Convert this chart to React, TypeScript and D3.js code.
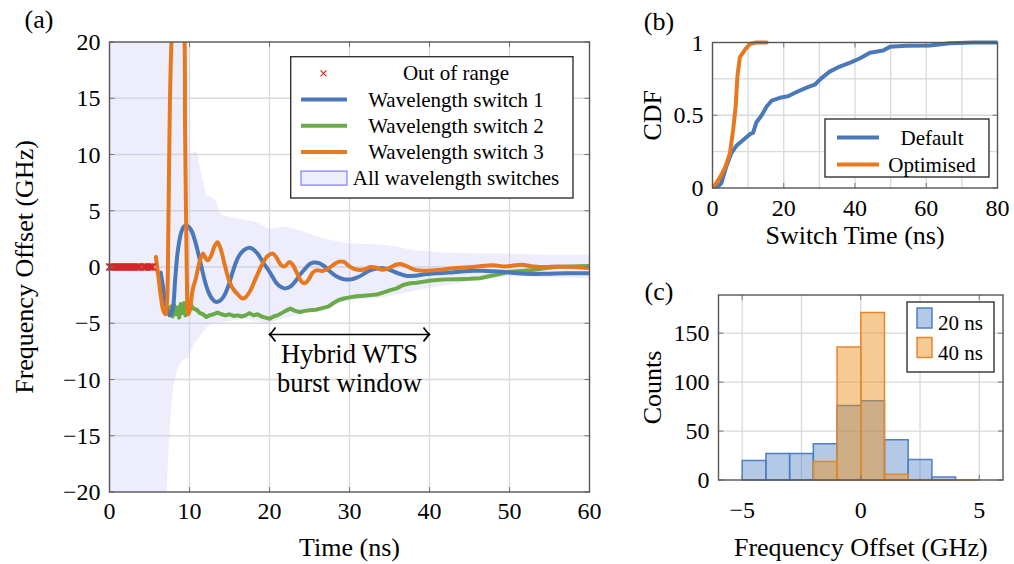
import React from 'react';
import * as d3 from 'd3';

const FONT = '"Liberation Serif", "Times New Roman", Times, serif';

type P = [number, number];

// ---------- Panel (a): frequency offset vs time ----------
const timeTicks = [0, 10, 20, 30, 40, 50, 60];
const offsetTicks = [-20, -15, -10, -5, 0, 5, 10, 15, 20];

const outOfRangeTimes = [0, 0.2, 0.4, 0.6, 0.8, 1.0, 1.2, 1.4, 1.6, 1.8, 2.0, 2.2, 2.4, 2.6, 2.8, 3.0, 3.2, 3.4, 3.6, 3.8, 4.2, 4.4, 4.6, 4.8, 5.0, 5.2, 5.4];

const switch1: P[] = [
  [6.4, -0.5], [6.7, -1.8], [7.0, -3.2], [7.3, -4.0], [7.6, -4.3], [7.9, -3.8], [8.2, -1.2], [8.5, 1.2],
  [8.9, 2.9], [9.3, 3.6], [9.7, 3.65], [10.2, 3.3], [10.7, 2.3], [11.1, 1.2], [11.5, 0], [11.9, -1.2],
  [12.3, -2.1], [12.8, -2.8], [13.3, -3.1], [13.8, -3.0], [14.3, -2.6], [14.8, -1.8], [15.2, -0.9], [15.7, 0.2],
  [16.2, 1.0], [16.8, 1.5], [17.4, 1.7], [17.9, 1.6], [18.5, 1.2], [19.2, 0.4], [19.8, -0.2], [20.4, -0.9],
  [20.9, -1.45], [21.5, -1.8], [22.0, -1.9], [22.6, -1.75], [23.2, -1.3], [23.8, -0.7], [24.4, -0.2], [25.0, 0.25],
  [25.5, 0.4], [26.2, 0.35], [26.8, 0.1], [27.4, -0.3], [28.0, -0.65], [28.7, -0.95], [29.4, -1.1], [30.2, -1.1],
  [30.9, -0.95], [31.6, -0.7], [32.4, -0.35], [33.2, -0.15], [34.2, -0.12], [35.2, -0.3], [36.2, -0.6], [37.2, -0.8],
  [38.2, -0.78], [39.4, -0.65], [40.8, -0.55], [42.4, -0.5], [44.0, -0.4], [45.5, -0.33], [47.0, -0.35], [48.5, -0.4],
  [50.0, -0.48], [52.0, -0.6], [54.5, -0.6], [57.0, -0.55], [60.0, -0.55],
];

const switch2: P[] = [
  [7.3, -3.6], [7.5, -4.3], [7.7, -3.5], [7.9, -4.4], [8.1, -3.4], [8.3, -4.2], [8.5, -3.6], [8.7, -4.5],
  [8.9, -3.3], [9.1, -4.1], [9.3, -3.2], [9.5, -4.3], [9.7, -3.5], [9.9, -4.0], [10.2, -3.4], [10.5, -3.7],
  [10.9, -3.8], [11.3, -4.1], [11.7, -4.2], [12.1, -4.45], [12.5, -4.3], [13.0, -4.2], [13.5, -4.05], [14.0, -4.2],
  [14.5, -4.3], [15.0, -4.2], [15.5, -4.35], [16.0, -4.3], [16.5, -4.4], [17.0, -4.3], [17.5, -4.1], [18.0, -4.3],
  [18.5, -4.2], [19.0, -4.4], [19.5, -4.5], [20.0, -4.6], [20.5, -4.4], [21.0, -4.3], [21.5, -4.1], [22.0, -3.9],
  [22.6, -3.7], [23.2, -3.9], [23.8, -4.0], [24.4, -3.9], [25.0, -3.85], [25.8, -3.8], [26.6, -3.65], [27.4, -3.5],
  [28.0, -3.2], [28.6, -2.95], [29.3, -2.8], [30.0, -2.7], [30.9, -2.6], [31.8, -2.55], [32.6, -2.5], [33.4, -2.45],
  [34.3, -2.25], [35.1, -2.05], [35.9, -1.9], [36.7, -1.6], [37.6, -1.45], [38.4, -1.4], [39.3, -1.3], [40.2, -1.2],
  [41.0, -1.15], [42.0, -1.1], [43.5, -1.08], [45.0, -1.05], [46.3, -1.0], [47.3, -0.85], [48.3, -0.7], [49.2, -0.55],
  [50.0, -0.42], [51.5, -0.35], [52.9, -0.27], [54.5, -0.1], [55.8, 0], [57.5, 0.05], [60.0, 0.1],
];

const switch3: P[] = [
  [5.8, 0.9], [6.1, -0.8], [6.4, -2.5], [6.7, -3.8], [7.0, -4.2], [7.2, -3.0], [7.35, 3], [7.5, 12],
  [7.7, 19], [8.0, 23], [8.6, 25], [9.2, 23], [9.45, 12], [9.65, 0], [9.85, -4.2],
  [10.05, -3.8], [10.4, -2.0], [10.8, -1.0], [11.1, 0], [11.4, 0.8], [11.7, 1.2], [12.0, 0.8],
  [12.3, 0.6], [12.7, 1.0], [13.1, 1.8], [13.5, 2.2], [13.9, 1.6], [14.4, 0.2], [15.0, -1.3], [15.5, -2.0],
  [16.0, -2.4], [16.6, -2.8], [17.0, -2.7], [17.6, -2.1], [18.1, -1.3], [18.6, -0.5], [19.2, 0.4], [19.8, 1.0],
  [20.4, 1.2], [20.9, 0.8], [21.4, 0.2], [21.9, 0.05], [22.5, 0.45], [22.9, 0.2], [23.4, -0.5], [24.0, -1.3],
  [24.4, -1.45], [24.9, -1.1], [25.4, -0.5], [25.9, -0.3], [26.6, -0.35], [27.2, -0.2], [27.9, 0.15], [28.6, 0.45],
  [29.3, 0.45], [29.9, 0.1], [30.5, -0.15], [31.2, -0.27], [31.9, -0.2], [32.6, 0], [33.3, -0.05], [34.1, -0.25],
  [34.9, -0.1], [35.8, 0.2], [36.4, 0.27], [37.2, 0.05], [38.2, -0.25], [39.2, -0.33], [40.5, -0.3], [41.5, -0.25],
  [43.0, -0.1], [44.5, -0.05], [46.0, 0.05], [48.0, 0.15], [49.5, 0.05], [51.5, 0.2], [53.0, 0.05], [54.5, 0],
  [56.0, 0.05], [58.0, 0], [60.0, -0.1],
];

const bandUpper: P[] = [
  [0, 22], [9.8, 22], [9.9, 10.0], [10.9, 10.3], [11.4, 8.5], [12.1, 6.4], [13.2, 6.0], [13.8, 4.8],
  [14.2, 4.6], [16.3, 4.3], [18.3, 4.0], [20, 3.4], [22, 3.6], [24, 3.2], [26, 2.7], [28, 2.35],
  [30, 2.1], [34, 2.0], [36, 1.8], [38, 1.5], [42, 1.3], [46, 1.2], [50, 1.2], [54, 1.1], [60, 1.1],
];

const bandLower: P[] = [
  [0, -22], [7.0, -22], [7.2, -19], [7.4, -16], [7.7, -12.5], [8.0, -10.5], [8.5, -9.0], [9.0, -8.3],
  [9.9, -8.0], [10.1, -7.6], [10.6, -6.8], [11.1, -6.4], [11.6, -5.8], [12.2, -5.3], [13, -5.0], [15, -4.8],
  [17, -4.6], [19, -4.9], [20, -5.0], [21, -4.7], [22, -4.5], [24, -4.2], [26, -3.7], [28, -3.3],
  [30, -3.0], [34, -2.7], [38, -2.1], [42, -1.6], [46, -1.15], [50, -0.8], [54, -0.9], [60, -1.0],
];

const legendA = ['Out of range', 'Wavelength switch 1', 'Wavelength switch 2', 'Wavelength switch 3', 'All wavelength switches'];

// ---------- Panel (b): CDF of switch time ----------
const switchTimeTicks = [0, 20, 40, 60, 80];
const switchTimeGrid = [10, 20, 30, 40, 50, 60, 70];
const cdfTicks = [0, 0.5, 1];
const cdfGrid = [0.25, 0.5, 0.75];

const cdfDefault: P[] = [
  [1.1, 0], [2.5, 0.034], [3.9, 0.15], [5.3, 0.24], [6.7, 0.29], [8.6, 0.33], [10.5, 0.37], [11.4, 0.38],
  [12.3, 0.45], [13.8, 0.5], [15.2, 0.56], [16.6, 0.6], [18.9, 0.62], [21.2, 0.63], [23.6, 0.66], [26.4, 0.69],
  [28.7, 0.71], [30.6, 0.755], [32.9, 0.8], [35.7, 0.835], [38.5, 0.86], [41.3, 0.89], [44.2, 0.93], [47.9, 0.945],
  [49.8, 0.97], [54.4, 0.978], [61, 0.98], [66.6, 0.995], [73.2, 1.0], [80, 1.0],
];

const cdfOptimised: P[] = [
  [0, 0], [1.1, 0.034], [2.5, 0.09], [3.7, 0.15], [4.9, 0.24], [5.8, 0.4], [6.5, 0.56], [7.0, 0.77],
  [7.7, 0.9], [9.1, 0.95], [10.5, 0.99], [12.3, 1.0], [15.2, 1.0],
];

const legendB = ['Default', 'Optimised'];

// ---------- Panel (c): histogram of frequency offset ----------
const freqTicks = [-5, 0, 5];
const freqGrid = [-5, -2.5, 0, 2.5, 5];
const countTicks = [0, 50, 100, 150];

const hist20Edges = [-5, -4, -3, -2, -1, 0, 1, 2, 3];
const hist20Counts = [20, 27, 27, 37, 76, 81, 41, 21, 3];
const hist40Edges = [-2, -1, 0, 1, 2, 3, 4];
const hist40Counts = [19, 136, 171, 6, 0, 0, 0];

const legendC = ['20 ns', '40 ns'];

const BLUE = '#4a78b8';
const GREEN = '#6aab47';
const ORANGE = '#e8781e';
const RED = '#d62728';
const GRID = '#d9d9d9';
const AXIS = '#555555';
const LW = 4;

const fmt = (v: number) => (v < 0 ? '\u2212' + Math.abs(v) : String(v));

export default function App() {
  // Panel A scales
  const ax = d3.scaleLinear().domain([0, 60]).range([109.5, 589.5]);
  const ay = d3.scaleLinear().domain([-20, 20]).range([492, 42]);
  const smooth = d3.line<P>().x(d => ax(d[0])).y(d => ay(d[1])).curve(d3.curveCatmullRom.alpha(0.5));
  const straight = d3.line<P>().x(d => ax(d[0])).y(d => ay(d[1]));
  const bandPath = straight(bandUpper.concat(bandLower.slice().reverse())) + 'Z';

  // Panel B scales
  const bx = d3.scaleLinear().domain([0, 80]).range([712.5, 997.5]);
  const by = d3.scaleLinear().domain([0, 1]).range([188, 42.5]);
  const lineB = d3.line<P>().x(d => bx(d[0])).y(d => by(d[1]));

  // Panel C scales
  const cx = d3.scaleLinear().domain([-6, 6]).range([718.5, 1003]);
  const cy = d3.scaleLinear().domain([0, 189]).range([480, 295]);

  const barPath = (e: number, c: number) =>
    `M${cx(e)},${cy(0)}V${cy(c)}H${cx(e + 1)}V${cy(0)}Z`;

  const tickLen = 5;

  const frame = (x0: number, x1: number, y0: number, y1: number) => (
    <rect x={x0} y={y1} width={x1 - x0} height={y0 - y1} fill="none" stroke={AXIS} strokeWidth={1.4} />
  );

  return (
    <svg width={1014} height={564} style={{ position: 'absolute', left: 0, top: 0, background: '#fff' }} fontFamily={FONT}>
      <defs>
        <clipPath id="clipA">
          <rect x={ax(0)} y={ay(20)} width={ax(60) - ax(0)} height={ay(-20) - ay(20)} />
        </clipPath>
        <clipPath id="clipB">
          <rect x={bx(0)} y={by(1) - 3} width={bx(80) - bx(0)} height={by(0) - by(1) + 3} />
        </clipPath>
      </defs>

      {/* ================= Panel (a) ================= */}
      <g>
        {timeTicks.slice(1, -1).map(t => (
          <line key={'agx' + t} x1={ax(t)} x2={ax(t)} y1={ay(-20)} y2={ay(20)} stroke={GRID} strokeWidth={1.3} />
        ))}
        {offsetTicks.slice(1, -1).map(t => (
          <line key={'agy' + t} x1={ax(0)} x2={ax(60)} y1={ay(t)} y2={ay(t)} stroke={GRID} strokeWidth={1.3} />
        ))}
        <path d={bandPath} fill="rgb(200,200,245)" fillOpacity={0.32} stroke="none" clipPath="url(#clipA)" />
        <g clipPath="url(#clipA)" fill="none" strokeLinejoin="round" strokeLinecap="round">
          <path d={straight(switch2) || ''} stroke={GREEN} strokeWidth={LW} />
          <path d={smooth(switch1) || ''} stroke={BLUE} strokeWidth={LW} />
          <path d={smooth(switch3) || ''} stroke={ORANGE} strokeWidth={LW} />
        </g>
        {outOfRangeTimes.map((t, i) => (
          <g key={'x' + i} stroke={RED} strokeWidth={1.4}>
            <line x1={ax(t) - 3.5} x2={ax(t) + 3.5} y1={ay(0) - 3.5} y2={ay(0) + 3.5} />
            <line x1={ax(t) - 3.5} x2={ax(t) + 3.5} y1={ay(0) + 3.5} y2={ay(0) - 3.5} />
          </g>
        ))}
        {/* ticks */}
        {timeTicks.map(t => (
          <g key={'atx' + t} stroke="#777" strokeWidth={1}>
            <line x1={ax(t)} x2={ax(t)} y1={ay(-20)} y2={ay(-20) - tickLen} />
            <line x1={ax(t)} x2={ax(t)} y1={ay(20)} y2={ay(20) + tickLen} />
          </g>
        ))}
        {offsetTicks.map(t => (
          <g key={'aty' + t} stroke="#777" strokeWidth={1}>
            <line x1={ax(0)} x2={ax(0) + tickLen} y1={ay(t)} y2={ay(t)} />
            <line x1={ax(60)} x2={ax(60) - tickLen} y1={ay(t)} y2={ay(t)} />
          </g>
        ))}
        {frame(ax(0), ax(60), ay(-20), ay(20))}
        {timeTicks.map(t => (
          <text key={'atl' + t} x={ax(t)} y={ay(-20) + 27} fontSize={24} textAnchor="middle">{fmt(t)}</text>
        ))}
        {offsetTicks.map(t => (
          <text key={'ayl' + t} x={ax(0) - 9} y={ay(t) + 8} fontSize={24} textAnchor="end">{fmt(t)}</text>
        ))}
        <text x={(ax(0) + ax(60)) / 2} y={556} fontSize={26} textAnchor="middle">Time (ns)</text>
        <text transform={`translate(33,${(ay(-20) + ay(20)) / 2}) rotate(-90)`} fontSize={26} textAnchor="middle">Frequency Offset (GHz)</text>
        <text x={39} y={28} fontSize={26} textAnchor="middle">(a)</text>

        {/* annotation */}
        <g stroke="#000" strokeWidth={1.6} fill="none">
          <line x1={ax(20)} x2={ax(40)} y1={334.5} y2={334.5} />
          <path d={`M${ax(20) + 6},${327.5} Q${ax(20) + 2},${333} ${ax(20)},${334.5} Q${ax(20) + 2},${336} ${ax(20) + 6},${341.5}`} />
          <path d={`M${ax(40) - 6},${327.5} Q${ax(40) - 2},${333} ${ax(40)},${334.5} Q${ax(40) - 2},${336} ${ax(40) - 6},${341.5}`} />
        </g>
        <text x={ax(30)} y={362.5} fontSize={26.5} textAnchor="middle">Hybrid WTS</text>
        <text x={ax(30)} y={391.5} fontSize={26.5} textAnchor="middle">burst window</text>

        {/* legend (a) */}
        <rect x={290.7} y={56.7} width={282.3} height={141.3} fill="#fff" stroke="#333" strokeWidth={1.4} />
        {legendA.map((label, i) => {
          const yy = 73.3 + i * 26.2;
          let marker: React.ReactNode = null;
          if (i === 0) {
            marker = (
              <g stroke={RED} strokeWidth={1.2}>
                <line x1={320.5} x2={326.5} y1={yy - 3} y2={yy + 3} />
                <line x1={320.5} x2={326.5} y1={yy + 3} y2={yy - 3} />
              </g>
            );
          } else if (i < 4) {
            const c = [BLUE, GREEN, ORANGE][i - 1];
            marker = <line x1={301} x2={347} y1={yy} y2={yy} stroke={c} strokeWidth={LW} />;
          } else {
            marker = <rect x={301} y={yy - 7} width={46} height={14} fill="rgb(200,200,245)" fillOpacity={0.32} stroke="#7f7fff" strokeWidth={1.2} />;
          }
          return (
            <g key={'la' + i}>
              {marker}
              <text x={456} y={yy + 7} fontSize={21} textAnchor="middle">{label}</text>
            </g>
          );
        })}
      </g>

      {/* ================= Panel (b) ================= */}
      <g>
        {switchTimeGrid.map(t => (
          <line key={'bgx' + t} x1={bx(t)} x2={bx(t)} y1={by(0)} y2={by(1)} stroke={GRID} strokeWidth={1.3} />
        ))}
        {cdfGrid.map(t => (
          <line key={'bgy' + t} x1={bx(0)} x2={bx(80)} y1={by(t)} y2={by(t)} stroke={GRID} strokeWidth={1.3} />
        ))}
        <g clipPath="url(#clipB)" fill="none" strokeLinejoin="round" strokeLinecap="round">
          <path d={lineB(cdfDefault) || ''} stroke={BLUE} strokeWidth={LW} />
          <path d={lineB(cdfOptimised) || ''} stroke={ORANGE} strokeWidth={LW} />
        </g>
        {switchTimeTicks.map(t => (
          <g key={'btx' + t} stroke="#777" strokeWidth={1}>
            <line x1={bx(t)} x2={bx(t)} y1={by(0)} y2={by(0) - tickLen} />
            <line x1={bx(t)} x2={bx(t)} y1={by(1)} y2={by(1) + tickLen} />
          </g>
        ))}
        {cdfTicks.map(t => (
          <g key={'bty' + t} stroke="#777" strokeWidth={1}>
            <line x1={bx(0)} x2={bx(0) + tickLen} y1={by(t)} y2={by(t)} />
            <line x1={bx(80)} x2={bx(80) - tickLen} y1={by(t)} y2={by(t)} />
          </g>
        ))}
        {frame(bx(0), bx(80), by(0), by(1))}
        {switchTimeTicks.map(t => (
          <text key={'btl' + t} x={bx(t)} y={by(0) + 28} fontSize={24} textAnchor="middle">{fmt(t)}</text>
        ))}
        {cdfTicks.map(t => (
          <text key={'byl' + t} x={bx(0) - 9} y={by(t) + 8} fontSize={24} textAnchor="end">{String(t)}</text>
        ))}
        <text x={(bx(0) + bx(80)) / 2} y={244} fontSize={26} textAnchor="middle">Switch Time (ns)</text>
        <text transform={`translate(661,${(by(0) + by(1)) / 2}) rotate(-90)`} fontSize={26} textAnchor="middle">CDF</text>
        <text x={659} y={30} fontSize={26} textAnchor="middle">(b)</text>

        <rect x={825} y={119} width={164} height={58} fill="#fff" stroke="#333" strokeWidth={1.4} />
        {legendB.map((label, i) => {
          const yy = 137.5 + i * 27;
          return (
            <g key={'lb' + i}>
              <line x1={837} x2={879} y1={yy} y2={yy} stroke={i === 0 ? BLUE : ORANGE} strokeWidth={LW} />
              <text x={932} y={yy + 7} fontSize={21} textAnchor="middle">{label}</text>
            </g>
          );
        })}
      </g>

      {/* ================= Panel (c) ================= */}
      <g>
        {freqGrid.map(t => (
          <line key={'cgx' + t} x1={cx(t)} x2={cx(t)} y1={cy(0)} y2={cy(189)} stroke={GRID} strokeWidth={1.3} />
        ))}
        {countTicks.slice(1).map(t => (
          <line key={'cgy' + t} x1={cx(-6)} x2={cx(6)} y1={cy(t)} y2={cy(t)} stroke={GRID} strokeWidth={1.3} />
        ))}
        {hist20Edges.map((e, i) => (
          <path key={'h20' + i} d={barPath(e, hist20Counts[i])} fill="#4c7fc0" fillOpacity={0.42} stroke="#4f7fc2" strokeWidth={1.5} />
        ))}
        {hist40Edges.map((e, i) => (
          <path key={'h40' + i} d={barPath(e, hist40Counts[i])} fill="#ea9020" fillOpacity={0.48} stroke="#e8862a" strokeWidth={1.5} />
        ))}
        {freqTicks.map(t => (
          <g key={'ctx' + t} stroke="#777" strokeWidth={1}>
            <line x1={cx(t)} x2={cx(t)} y1={cy(0)} y2={cy(0) - tickLen} />
            <line x1={cx(t)} x2={cx(t)} y1={cy(189)} y2={cy(189) + tickLen} />
          </g>
        ))}
        {countTicks.map(t => (
          <g key={'cty' + t} stroke="#777" strokeWidth={1}>
            <line x1={cx(-6)} x2={cx(-6) + tickLen} y1={cy(t)} y2={cy(t)} />
            <line x1={cx(6)} x2={cx(6) - tickLen} y1={cy(t)} y2={cy(t)} />
          </g>
        ))}
        {frame(cx(-6), cx(6), cy(0), cy(189))}
        {freqTicks.map(t => (
          <text key={'ctl' + t} x={cx(t)} y={cy(0) + 38} fontSize={24} textAnchor="middle">{fmt(t)}</text>
        ))}
        {countTicks.map(t => (
          <text key={'cyl' + t} x={cx(-6) - 9} y={cy(t) + 8} fontSize={24} textAnchor="end">{String(t)}</text>
        ))}
        <text x={(cx(-6) + cx(6)) / 2} y={556} fontSize={26} textAnchor="middle">Frequency Offset (GHz)</text>
        <text transform={`translate(661,${(cy(0) + cy(189)) / 2}) rotate(-90)`} fontSize={26} textAnchor="middle">Counts</text>
        <text x={659} y={300} fontSize={26} textAnchor="middle">(c)</text>

        <rect x={907} y={302} width={87} height={70} fill="#fff" stroke="#333" strokeWidth={1.4} />
        {legendC.map((label, i) => {
          const yy = 318 + i * 29.5;
          return (
            <g key={'lc' + i}>
              <rect x={917} y={yy - 10} width={15} height={20}
                fill={i === 0 ? '#4c7fc0' : '#ea9020'} fillOpacity={i === 0 ? 0.42 : 0.48}
                stroke={i === 0 ? '#4f7fc2' : '#e8862a'} strokeWidth={1.5} />
              <text x={938} y={yy + 12} fontSize={21}>{label}</text>
            </g>
          );
        })}
      </g>
    </svg>
  );
}
